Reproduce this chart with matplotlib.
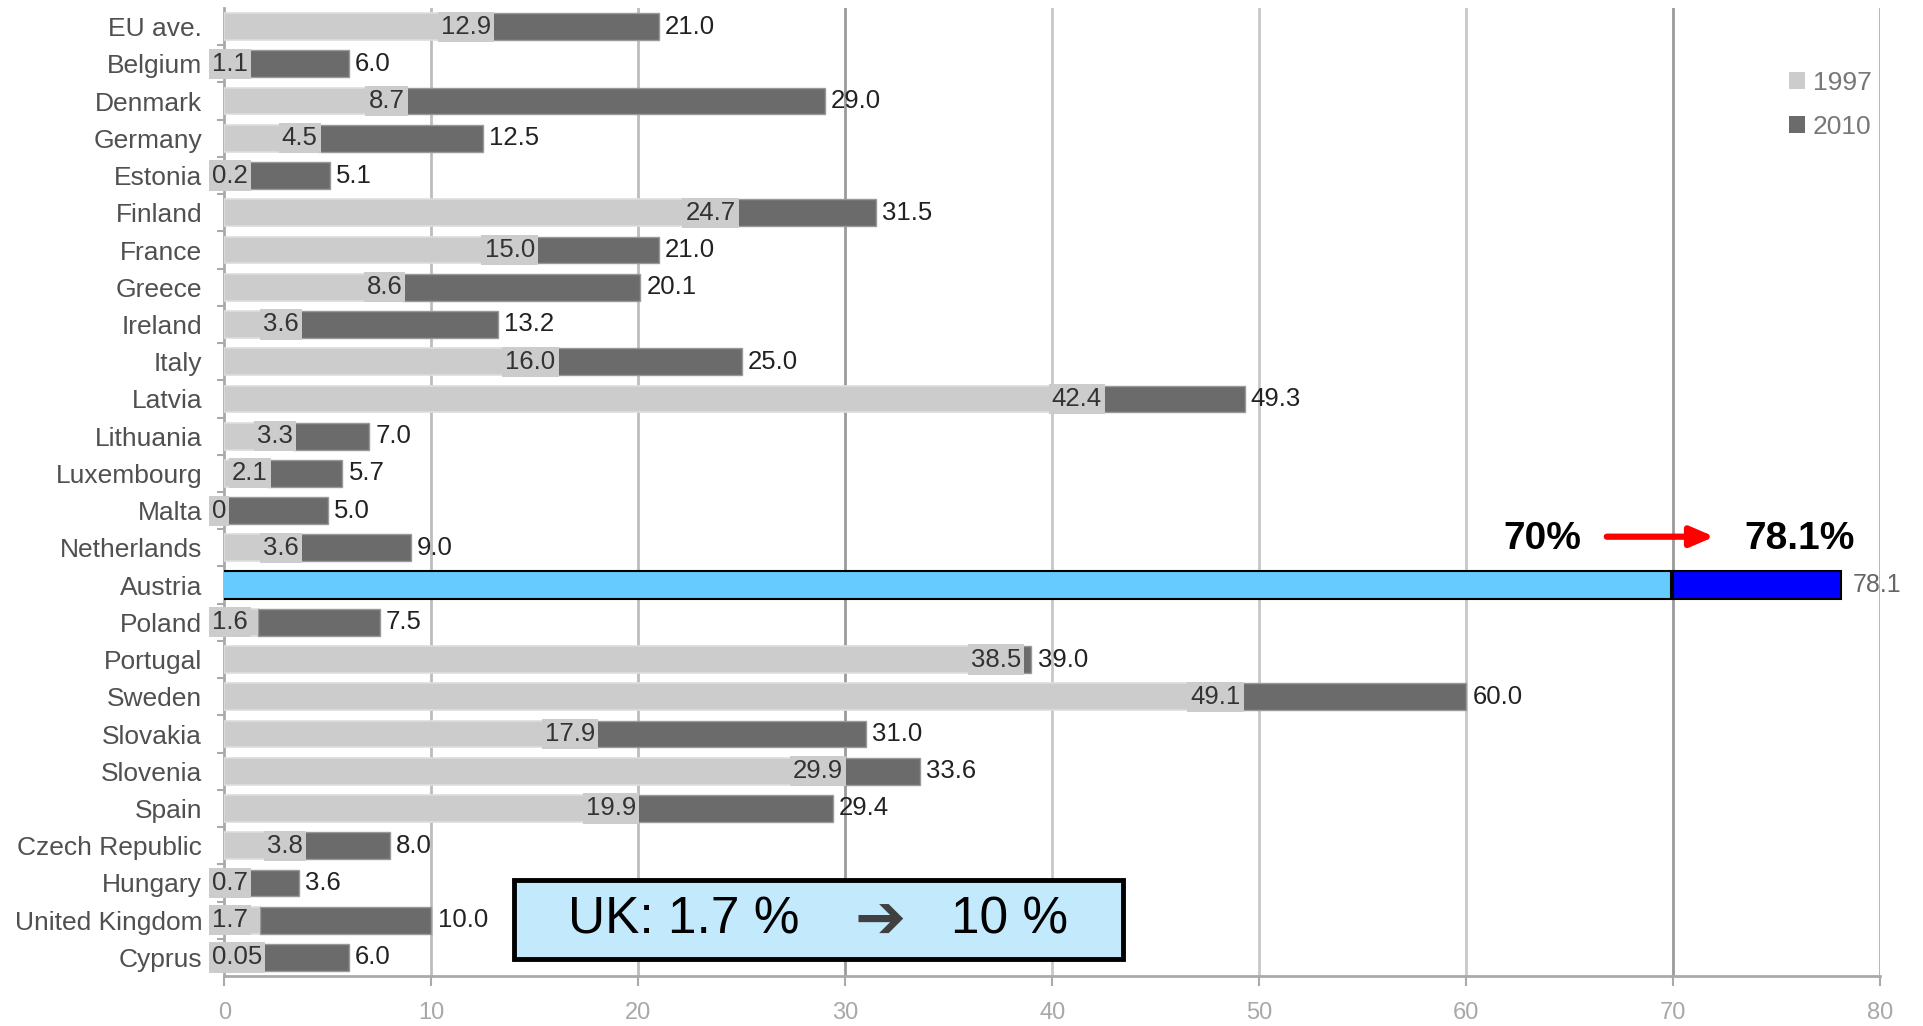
import matplotlib
matplotlib.use('Agg')
import matplotlib.pyplot as plt
from matplotlib.patches import Rectangle, Patch

countries = ['EU ave.', 'Belgium', 'Denmark', 'Germany', 'Estonia', 'Finland', 'France',
             'Greece', 'Ireland', 'Italy', 'Latvia', 'Lithuania', 'Luxembourg', 'Malta',
             'Netherlands', 'Austria', 'Poland', 'Portugal', 'Sweden', 'Slovakia',
             'Slovenia', 'Spain', 'Czech Republic', 'Hungary', 'United Kingdom', 'Cyprus']
v1997 = [12.9, 1.1, 8.7, 4.5, 0.2, 24.7, 15.0, 8.6, 3.6, 16.0, 42.4, 3.3, 2.1, 0.0,
         3.6, 70.0, 1.6, 38.5, 49.1, 17.9, 29.9, 19.9, 3.8, 0.7, 1.7, 0.05]
v2010 = [21.0, 6.0, 29.0, 12.5, 5.1, 31.5, 21.0, 20.1, 13.2, 25.0, 49.3, 7.0, 5.7, 5.0,
         9.0, 78.1, 7.5, 39.0, 60.0, 31.0, 33.6, 29.4, 8.0, 3.6, 10.0, 6.0]
labels1997 = ['12.9', '1.1', '8.7', '4.5', '0.2', '24.7', '15.0', '8.6', '3.6', '16.0',
              '42.4', '3.3', '2.1', '0', '3.6', '', '1.6', '38.5', '49.1', '17.9',
              '29.9', '19.9', '3.8', '0.7', '1.7', '0.05']
labels2010 = ['21.0', '6.0', '29.0', '12.5', '5.1', '31.5', '21.0', '20.1', '13.2', '25.0',
              '49.3', '7.0', '5.7', '5.0', '9.0', '78.1', '7.5', '39.0', '60.0', '31.0',
              '33.6', '29.4', '8.0', '3.6', '10.0', '6.0']
series_names = ['1997', '2010']
xticks = [0, 10, 20, 30, 40, 50, 60, 70, 80]
highlight = 'Austria'
arrow_from_text = '70%'
arrow_to_text = '78.1%'
uk_from = 'UK: 1.7 %'
uk_arrow = '\u2794'
uk_to = '10 %'

SANS = ['Liberation Sans', 'DejaVu Sans']

LIGHT = '#cccccc'
DARK = '#6b6b6b'
HL_LIGHT = '#66ccff'
HL_DARK = '#0000ff'

fig = plt.figure(figsize=(19.23, 10.26), dpi=100)
ax = fig.add_axes([0.1167, 0.0487, 0.8609, 0.9435])

ys = list(range(len(countries)))
h = 0.72
for i, (c, a, b) in enumerate(zip(countries, v1997, v2010)):
    if c == highlight:
        ax.barh(i, a, height=0.76, left=-0.1, color=HL_LIGHT, edgecolor='black', linewidth=1.5, zorder=3)
        ax.barh(i, b - a, height=0.76, left=a, color=HL_DARK, edgecolor='black', linewidth=1.5, zorder=3)
        ax.text(b + 0.6, i, labels2010[i], ha='left', va='center', fontsize=18,
                family=SANS, color='#666666', zorder=5)
        continue
    ax.barh(i, a, height=h, color=LIGHT, edgecolor='#dddddd', linewidth=1.2, zorder=3)
    ax.barh(i, b - a, height=h, left=a, color=DARK, edgecolor='#999999', linewidth=1.0, zorder=3)
    if a < 2.0:
        lx, lha = -0.6, 'left'
    else:
        lx, lha = a, 'right'
    ax.text(lx, i, labels1997[i], ha=lha, va='center', fontsize=18.5, family=SANS,
            color='#333333', zorder=5, clip_on=False,
            bbox=dict(boxstyle='square,pad=0.12', fc=LIGHT, ec='none'))
    ax.text(b + 0.3, i, labels2010[i], ha='left', va='center', fontsize=18.5,
            family=SANS, color='#222222', zorder=5)

ax.set_xlim(0, 80)
ax.set_ylim(len(countries) - 0.5, -0.5)

# gridlines
grid_colors = ['#c8c8c8', '#bdbdbd', '#bdbdbd', '#9a9a9a', '#c8c8c8', '#c8c8c8', '#c8c8c8', '#9a9a9a', '#b0b0b0']
for xv, gc in zip(xticks[1:], grid_colors[1:]):
    ax.axvline(xv, color=gc, linewidth=2, zorder=1)

ax.set_xticks(xticks)
ax.set_xticklabels([str(t) for t in xticks], family=SANS, fontsize=17, color='#a8a8a8')
ax.tick_params(axis='x', length=7, width=1.5, color='#aaaaaa', pad=12)
ax.set_yticks(ys)
ax.set_yticklabels(countries, family=SANS, fontsize=19, color='#505050')
ax.tick_params(axis='y', length=0, pad=16)
ax.set_yticks([y + 0.5 for y in ys[:-1]], minor=True)
ax.tick_params(axis='y', which='minor', length=5, width=1.5, color='#aaaaaa')

for s in ['top', 'right']:
    ax.spines[s].set_visible(False)
for s in ['left', 'bottom']:
    ax.spines[s].set_color('#aaaaaa')
    ax.spines[s].set_linewidth(2)

# legend
handles = [Patch(facecolor=LIGHT, edgecolor='none'), Patch(facecolor=DARK, edgecolor='none')]
leg = ax.legend(handles, series_names, loc='upper right', bbox_to_anchor=(0.995, 0.935),
                borderaxespad=0, borderpad=0,
                frameon=False, handlelength=0.6, handleheight=0.6, handletextpad=0.3,
                labelspacing=0.75, prop={'family': SANS, 'size': 19})
for t in leg.get_texts():
    t.set_color('#777777')

# Austria annotation
ya = 13.75
ax.text(63.7, ya, arrow_from_text, ha='center', va='center', fontsize=28,
        fontweight='bold', family=SANS, color='black', zorder=6)
ax.text(76.1, ya, arrow_to_text, ha='center', va='center', fontsize=28,
        fontweight='bold', family=SANS, color='black', zorder=6)
ax.annotate('', xy=(72.0, ya - 0.05), xytext=(66.8, ya - 0.05),
            arrowprops=dict(arrowstyle='-|>,head_length=1.4,head_width=0.6',
                            color='red', lw=4.5, shrinkA=0, shrinkB=0), zorder=6)

# UK box
ax.add_patch(Rectangle((14.0, 22.93), 29.4, 2.12, facecolor='#c3eafc',
                       edgecolor='black', linewidth=3.5, zorder=6, clip_on=False))
ax.text(16.6, 24.0, uk_from, ha='left', va='center', fontsize=37, family=SANS,
        color='black', zorder=7)
ax.text(31.7, 24.05, uk_arrow, ha='center', va='center', fontsize=44, fontweight='bold',
        family=['DejaVu Sans'], color='#404040', zorder=7)
ax.text(35.1, 24.0, uk_to, ha='left', va='center', fontsize=37, family=SANS,
        color='black', zorder=7)

fig.savefig('out.png', dpi=100, facecolor='white')
